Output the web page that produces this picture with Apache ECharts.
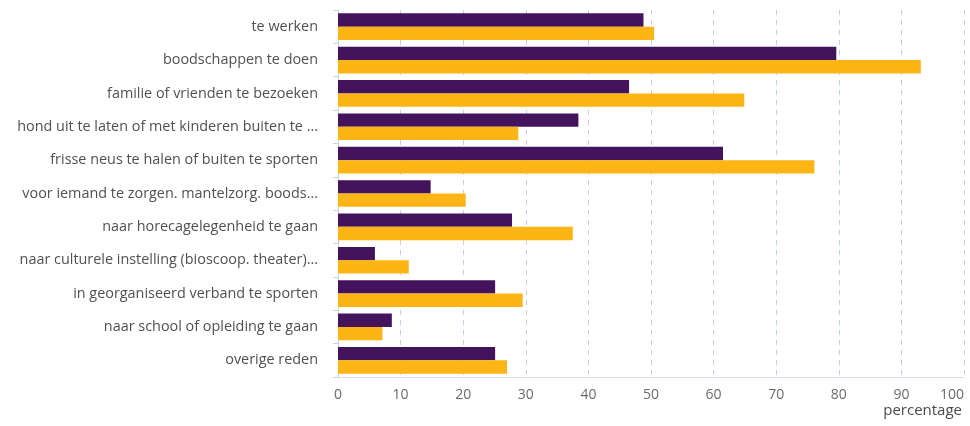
<!DOCTYPE html>
<html>
<head>
<meta charset="utf-8">
<script src="https://cdn.jsdelivr.net/npm/echarts@6/dist/echarts.min.js"></script>
<style>html,body{margin:0;padding:0;background:#fff}#c{width:970px;height:426px}</style>
</head>
<body>
<div id="c"></div>
<script>
var categories = [
  "te werken",
  "boodschappen te doen",
  "familie of vrienden te bezoeken",
  "hond uit te laten of met kinderen buiten te ...",
  "frisse neus te halen of buiten te sporten",
  "voor iemand te zorgen. mantelzorg. boods...",
  "naar horecagelegenheid te gaan",
  "naar culturele instelling (bioscoop. theater)...",
  "in georganiseerd verband te sporten",
  "naar school of opleiding te gaan",
  "overige reden"
];
var seriesPurple = [48.8, 79.6, 46.5, 38.4, 61.5, 14.8, 27.8, 5.9, 25.1, 8.6, 25.1];
var seriesOrange = [50.5, 93.1, 64.9, 28.8, 76.1, 20.4, 37.5, 11.3, 29.5, 7.1, 27.0];
var xTicks = { min: 0, max: 100, interval: 10 };
var axisName = "percentage";

var chart = echarts.init(document.getElementById('c'), null, {renderer: 'canvas'});
chart.setOption({
  animation: false,
  grid: { left: 338, right: 6, top: 10, bottom: 49, containLabel: false, outerBoundsMode: 'none' },
  xAxis: {
    type: 'value', min: xTicks.min, max: xTicks.max, interval: xTicks.interval,
    axisLine: { show: true, lineStyle: { color: '#d3dbe8', width: 1 } },
    axisTick: { show: false },
    axisLabel: { color: '#6b6b6b', fontFamily: 'Open Sans', fontSize: 14, margin: 11, alignMaxLabel: 'right' },
    splitLine: { show: true, lineStyle: { color: '#c3d1e6', type: [5, 5], width: 1 } },
    name: axisName, nameLocation: 'end', nameGap: 0,
    nameTextStyle: { color: '#4a4a4a', fontFamily: 'Open Sans', fontSize: 15, align: 'right', verticalAlign: 'top', padding: [26, 2, 0, 0] }
  },
  yAxis: {
    type: 'category', data: categories, inverse: true,
    axisLine: { show: true, lineStyle: { color: '#c8d3e6', width: 1 } },
    axisTick: { show: true, length: 5, lineStyle: { color: '#c8d3e6' } },
    axisLabel: { color: '#505050', fontFamily: 'Open Sans', fontSize: 14.4, margin: 20 }
  },
  series: [
    { type: 'bar', data: seriesPurple, itemStyle: { color: '#43145c' }, barGap: '0%', barCategoryGap: '20%' },
    { type: 'bar', data: seriesOrange, itemStyle: { color: '#fdb515' }, barGap: '0%', barCategoryGap: '20%' }
  ]
});
</script>
</body>
</html>
